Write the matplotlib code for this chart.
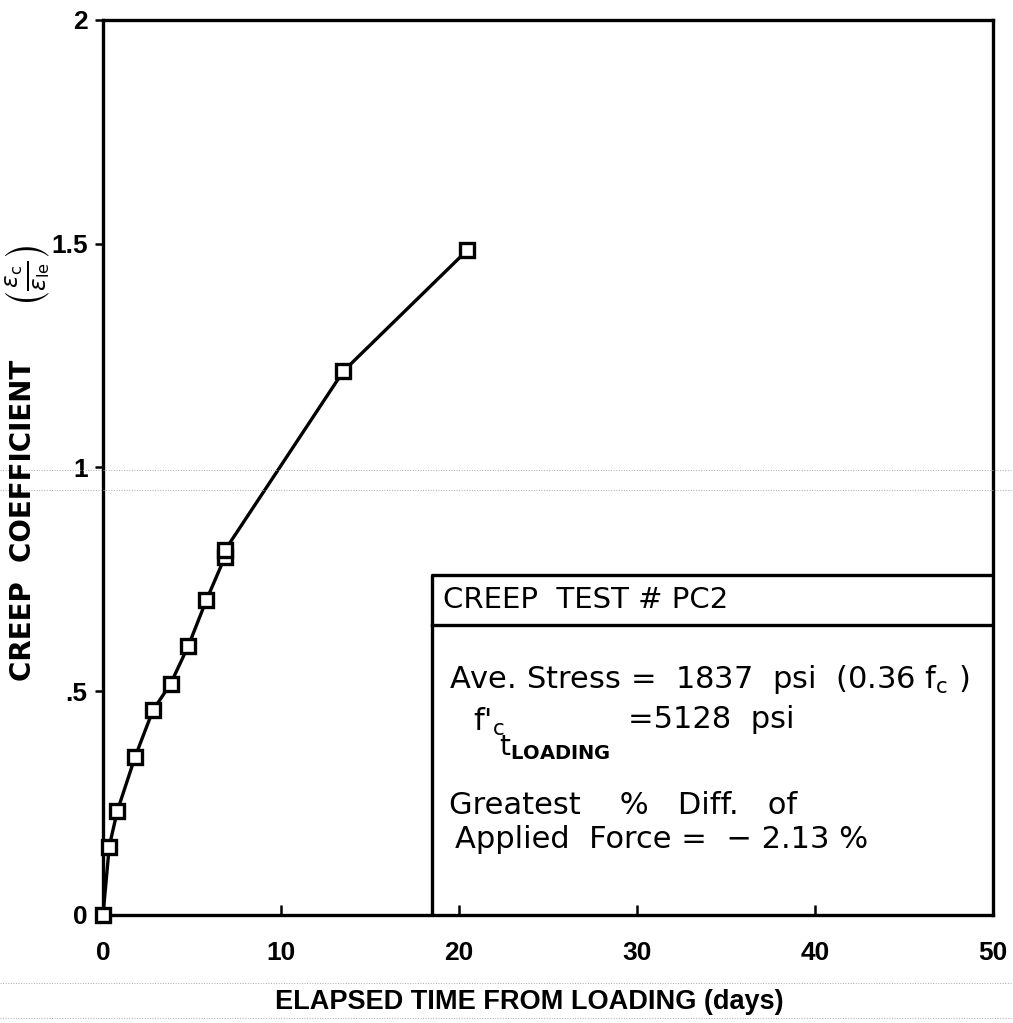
import matplotlib
matplotlib.use("Agg")
import matplotlib.pyplot as plt
from matplotlib.lines import Line2D

# data
days = [0, 0.35, 0.8, 1.8, 2.8, 3.8, 4.8, 5.8, 6.85, 6.85, 13.5, 20.45]
creep = [0.0, 0.153, 0.232, 0.353, 0.457, 0.517, 0.602, 0.703, 0.80, 0.815, 1.215, 1.485]

x_ticks = [0, 10, 20, 30, 40, 50]
y_ticks = [0, 0.5, 1, 1.5, 2]
y_tick_labels = ["0", ".5", "1", "1.5", "2"]

plt.rcParams["font.family"] = ["DejaVu Sans"]
narrow = ["Liberation Sans", "DejaVu Sans"]

W, H = 1013, 1023
fig = plt.figure(figsize=(W / 100, H / 100), dpi=100)
ax = fig.add_axes([0.1017, 0.1056, 0.8786, 0.8749])


def ftext(px, py, s, **kw):
    # place text by pixel position of the page
    fig.text(px / W, 1 - py / H, s, **kw)


ax.plot(days, creep, color="black", lw=2.4, marker="s", markersize=10,
        markerfacecolor="white", markeredgecolor="black", markeredgewidth=2.4,
        clip_on=False, zorder=3)

ax.set_xlim(0, 50)
ax.set_ylim(0, 2)
ax.set_xticks(x_ticks)
ax.set_xticklabels([str(t) for t in x_ticks], fontsize=19, fontweight="bold", family=narrow)
ax.set_yticks(y_ticks)
ax.set_yticklabels(y_tick_labels, fontsize=19, fontweight="bold", family=narrow)
ax.tick_params(axis="x", direction="in", length=7, width=1.8, pad=19)
ax.tick_params(axis="y", direction="out", length=6, width=1.8, pad=5)
for s in ax.spines.values():
    s.set_linewidth(2.4)

# axis titles
ftext(529, 1002, "ELAPSED TIME FROM LOADING (days)", fontsize=19.5, fontweight="bold",
      family=narrow, ha="center", va="center")
ftext(23, 520, "CREEP  COEFFICIENT", fontsize=20, fontweight="bold",
      rotation=90, ha="center", va="center")
ftext(28, 276, r"$\left(\frac{\epsilon_\mathrm{c}}{\epsilon_\mathrm{le}}\right)$", fontsize=24,
      rotation=90, ha="center", va="center")

# info box
bx0, bx1, by1, bh = 18.5, 50, 0.76, 0.648
ax.plot([bx0, bx0, bx1], [0, by1, by1], color="black", lw=2.4)
ax.plot([bx0, bx1], [bh, bh], color="black", lw=2.4)

ftext(443, 600, "CREEP  TEST # PC2", fontsize=21, va="center")
ftext(449, 679, r"Ave. Stress =  1837  psi  (0.36 f$_\mathrm{c}$ )", fontsize=22, va="center")
ftext(473, 731, r"f$'_{\mathrm{c}}$", fontsize=22, va="baseline")
ftext(499, 755, r"t$_{\mathbf{LOADING}}$", fontsize=20, va="baseline")
ftext(628, 719, "=5128  psi", fontsize=22, va="center")
ftext(449, 806, "Greatest    %   Diff.   of", fontsize=22, va="center")
ftext(455, 840, "Applied  Force =  \u2212 2.13 %", fontsize=22, va="center")

# faint dotted scan lines across the page
for py in [470, 490, 983, 1018]:
    fig.add_artist(Line2D([0, 1], [1 - py / H, 1 - py / H], transform=fig.transFigure,
                          color="#aaaaaa", lw=0.7, ls=":"))

fig.savefig("out.png", dpi=100, facecolor="white")
